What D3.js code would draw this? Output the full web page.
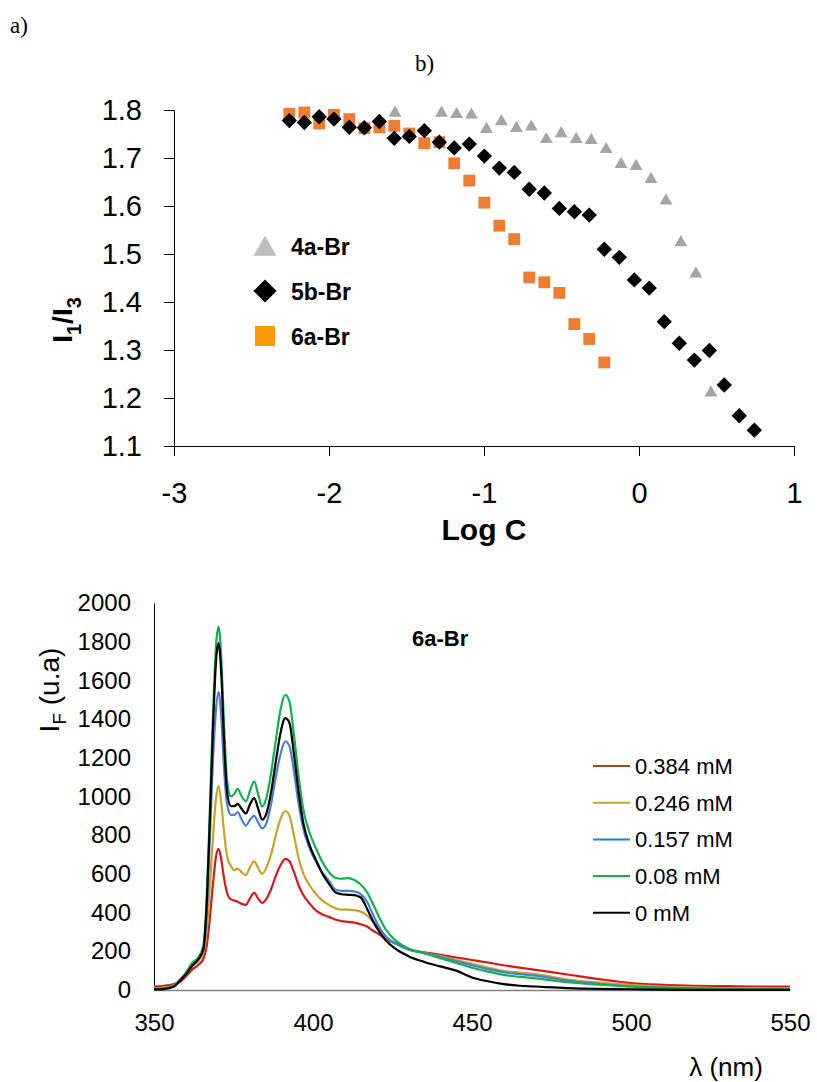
<!DOCTYPE html>
<html>
<head>
<meta charset="utf-8">
<script src="https://cdn.jsdelivr.net/npm/d3@7"></script>
<style>
  body { margin: 0; background: #fff; }
  svg { display: block; font-family: "Liberation Sans", Arial, sans-serif; }
</style>
</head>
<body>
<div id="chart"></div>
<script>
// ---- data: b) I1/I3 vs Log C ----
const logC4a = [-1.574, -1.274, -1.177, -1.081, -0.984, -0.888, -0.791, -0.695, -0.598, -0.502, -0.405, -0.308, -0.212, -0.115, -0.019, 0.077, 0.174, 0.270, 0.367, 0.464];
const ratio4a = [1.796, 1.796, 1.793, 1.792, 1.762, 1.778, 1.764, 1.767, 1.741, 1.753, 1.741, 1.739, 1.720, 1.689, 1.685, 1.658, 1.613, 1.526, 1.461, 1.213];

const logC5b = [-2.256, -2.159, -2.063, -1.968, -1.869, -1.772, -1.675, -1.579, -1.482, -1.385, -1.288, -1.192, -1.095, -0.998, -0.901, -0.805, -0.708, -0.611, -0.514, -0.417, -0.321, -0.224, -0.127, -0.030, 0.066, 0.163, 0.260, 0.357, 0.454, 0.550, 0.647, 0.744];
const ratio5b = [1.778, 1.774, 1.786, 1.781, 1.764, 1.763, 1.776, 1.741, 1.745, 1.757, 1.733, 1.721, 1.729, 1.704, 1.679, 1.670, 1.635, 1.627, 1.595, 1.588, 1.581, 1.510, 1.493, 1.446, 1.429, 1.359, 1.314, 1.279, 1.299, 1.227, 1.163, 1.133];

const logC6a = [-2.256, -2.159, -2.063, -1.968, -1.869, -1.772, -1.675, -1.579, -1.482, -1.385, -1.288, -1.192, -1.095, -0.998, -0.901, -0.805, -0.708, -0.611, -0.514, -0.417, -0.321, -0.224];
const ratio6a = [1.792, 1.795, 1.772, 1.790, 1.781, 1.762, 1.764, 1.767, 1.751, 1.731, 1.733, 1.689, 1.653, 1.607, 1.559, 1.531, 1.451, 1.441, 1.419, 1.354, 1.323, 1.274];

const topXTicks = [-3, -2, -1, 0, 1];
const topYTicks = [1.1, 1.2, 1.3, 1.4, 1.5, 1.6, 1.7, 1.8];
const topLegend = ["4a-Br", "5b-Br", "6a-Br"];

// ---- data: a) emission spectra of 6a-Br ----
const wavelength = [350, 353, 356, 358, 360, 362, 364, 365.5, 366.5, 367.5, 368.5, 369.5, 370.3, 371.2, 372, 373, 374.2, 375.3, 376.3, 377.6, 378.9, 380.2, 381.5, 382.8, 384, 385.3, 386.8, 388.3, 389.8, 391.3, 392.6, 394, 395.5, 397, 399, 401, 403, 405, 407, 409, 411, 413, 415, 417, 419, 421, 423, 426, 430, 435, 440, 445, 450, 455, 460, 465, 470, 480, 490, 500, 510, 520, 530, 540, 550];
const int0384 = [17, 22, 30, 40, 70, 105, 130, 160, 220, 360, 540, 690, 730, 670, 580, 500, 468, 462, 456, 445, 440, 475, 502, 472, 450, 470, 520, 590, 645, 678, 665, 610, 540, 490, 445, 410, 390, 378, 364, 356, 352, 348, 340, 328, 305, 285, 262, 240, 210, 195, 182, 168, 155, 142, 128, 116, 104, 80, 56, 36, 27, 22, 20, 18, 17];
const int0246 = [8, 12, 22, 45, 80, 120, 150, 190, 300, 520, 780, 990, 1055, 960, 820, 690, 640, 620, 628, 608, 594, 635, 665, 630, 600, 630, 700, 800, 885, 925, 900, 800, 680, 600, 540, 495, 462, 440, 422, 415, 415, 412, 405, 385, 350, 310, 272, 240, 212, 192, 175, 155, 135, 116, 98, 90, 82, 54, 38, 26, 17, 12, 10, 9, 8];
const int0157 = [5, 8, 20, 50, 85, 130, 165, 200, 380, 760, 1170, 1450, 1540, 1400, 1150, 960, 905, 905, 920, 880, 850, 880, 900, 865, 835, 860, 960, 1100, 1220, 1285, 1260, 1130, 960, 830, 730, 660, 605, 565, 520, 512, 512, 510, 495, 455, 385, 320, 275, 240, 210, 190, 172, 150, 128, 108, 92, 82, 74, 48, 31, 18, 12, 8, 6, 5, 5];
const int008 = [5, 8, 20, 50, 90, 140, 170, 230, 450, 900, 1400, 1780, 1878, 1700, 1380, 1080, 1000, 1015, 1040, 1000, 975, 1030, 1078, 1010, 948, 990, 1120, 1290, 1450, 1525, 1490, 1320, 1100, 930, 810, 730, 660, 610, 580, 575, 578, 568, 545, 505, 440, 370, 310, 255, 215, 190, 165, 140, 115, 95, 78, 68, 60, 40, 27, 17, 11, 7, 5, 4, 4];
const int0 = [3, 5, 15, 45, 80, 125, 160, 210, 420, 850, 1330, 1700, 1793, 1620, 1300, 1020, 950, 950, 962, 935, 912, 960, 992, 935, 880, 910, 1020, 1180, 1330, 1405, 1380, 1220, 1020, 860, 745, 670, 600, 550, 505, 495, 492, 490, 478, 420, 352, 298, 255, 212, 175, 145, 122, 100, 65, 45, 30, 22, 18, 10, 6, 4, 2, 1, 1, 1, 1];

const concLabels = ["0.384 mM", "0.246 mM", "0.157 mM", "0.08 mM", "0 mM"];
const lineColors = ["#d7191c", "#c9a227", "#4a7fd0", "#10b050", "#000000"];
const legendColors = ["#9c4a1a", "#c9a227", "#1a7fd8", "#10b050", "#000000"];
const botXTicks = [350, 400, 450, 500, 550];
const botYTicks = [0, 200, 400, 600, 800, 1000, 1200, 1400, 1600, 1800, 2000];

const width = 817, height = 1082;

const svg = d3.select("#chart")
  .append("svg")
  .attr("width", width)
  .attr("height", height)
  .attr("viewBox", [0, 0, width, height]);

// panel letters
svg.append("text").attr("x", 10).attr("y", 33)
  .style("font-family", "'Liberation Serif', 'Times New Roman', serif")
  .style("font-size", "23px").text("a)");
svg.append("text").attr("x", 415).attr("y", 71)
  .style("font-family", "'Liberation Serif', 'Times New Roman', serif")
  .style("font-size", "23px").text("b)");

// ================= top chart =================
const x1 = d3.scaleLinear().domain([-3, 1]).range([174, 794]);
const y1 = d3.scaleLinear().domain([1.1, 1.8]).range([446, 110]);

const gx1 = svg.append("g")
  .attr("transform", "translate(0,446)")
  .call(d3.axisBottom(x1).tickValues(topXTicks).tickSize(10).tickSizeOuter(0).tickPadding(26).tickFormat(d3.format("d")));
const gy1 = svg.append("g")
  .attr("transform", "translate(174,0)")
  .call(d3.axisLeft(y1).tickValues(topYTicks).tickSize(10).tickSizeOuter(0).tickPadding(22).tickFormat(d3.format(".1f")));
[gx1, gy1].forEach(g => {
  g.selectAll("text").style("font-size", "29px").style("font-family", "'Liberation Sans', Arial, sans-serif").attr("fill", "#000");
  g.selectAll("line, path").attr("stroke", "#000");
});
gx1.selectAll("text").text(d => d < 0 ? "-" + Math.abs(d) : d);

svg.append("text")
  .attr("x", 484).attr("y", 540)
  .attr("text-anchor", "middle")
  .style("font-size", "30px").style("font-weight", "bold")
  .text("Log C");

const yt1 = svg.append("text")
  .attr("transform", "translate(72,320) rotate(-90)")
  .attr("text-anchor", "middle")
  .style("font-size", "28px").style("font-weight", "bold");
yt1.append("tspan").text("I");
yt1.append("tspan").attr("dy", 9).style("font-size", "20px").text("1");
yt1.append("tspan").attr("dy", -9).text("/I");
yt1.append("tspan").attr("dy", 9).style("font-size", "20px").text("3");

const triangle = d3.symbol().type(d3.symbolTriangle);
const square = d3.symbol().type(d3.symbolSquare);

svg.append("g").selectAll("path")
  .data(logC4a.map((c, i) => [c, ratio4a[i]]))
  .join("path")
  .attr("transform", d => `translate(${x1(d[0])},${y1(d[1]) + 1})`)
  .attr("d", triangle.size(72)())
  .attr("fill", "#a5a5a5");

svg.append("g").selectAll("path")
  .data(logC6a.map((c, i) => [c, ratio6a[i]]))
  .join("path")
  .attr("transform", d => `translate(${x1(d[0])},${y1(d[1])})`)
  .attr("d", square.size(140)())
  .attr("fill", "#ed7d31");

svg.append("g").selectAll("path")
  .data(logC5b.map((c, i) => [c, ratio5b[i]]))
  .join("path")
  .attr("transform", d => `translate(${x1(d[0])},${y1(d[1])}) rotate(45)`)
  .attr("d", square.size(118)())
  .attr("fill", "#000");

// top legend
const legMarks = [
  { d: triangle.size(230)(), fill: "#bfbfbf", rot: 0, dy: 3 },
  { d: square.size(270)(), fill: "#000", rot: 45, dy: 0 },
  { d: square.size(400)(), fill: "#ff9900", rot: 0, dy: 0 }
];
const leg1 = svg.append("g");
topLegend.forEach((name, i) => {
  const cy = 246 + i * 45;
  leg1.append("path")
    .attr("transform", `translate(265,${cy + legMarks[i].dy}) rotate(${legMarks[i].rot})`)
    .attr("d", legMarks[i].d)
    .attr("fill", legMarks[i].fill);
  leg1.append("text")
    .attr("x", 291).attr("y", cy + 9)
    .style("font-size", "23px").style("font-weight", "bold")
    .text(name);
});

// ================= bottom chart =================
const x2 = d3.scaleLinear().domain([350, 550]).range([154, 790]);
const y2 = d3.scaleLinear().domain([0, 2000]).range([990, 603]);

const gx2 = svg.append("g")
  .attr("transform", "translate(0,990)")
  .call(d3.axisBottom(x2).tickValues(botXTicks).tickSize(0).tickPadding(24).tickFormat(d3.format("d")));
gx2.select(".domain").attr("stroke", "#7f7f7f").attr("stroke-width", 1.5);
const gy2 = svg.append("g")
  .attr("transform", "translate(154,0)")
  .call(d3.axisLeft(y2).tickValues(botYTicks).tickSize(0).tickPadding(23).tickFormat(d3.format("d")));
gy2.select(".domain").attr("stroke", "#000");
[gx2, gy2].forEach(g => {
  g.selectAll("text").style("font-size", "24px").style("font-family", "'Liberation Sans', Arial, sans-serif").attr("fill", "#000");
});

const series = [int0384, int0246, int0157, int008, int0];
const line = d3.line()
  .x((d, i) => x2(wavelength[i]))
  .y(d => y2(d))
  .curve(d3.curveMonotoneX);

svg.append("g").selectAll("path")
  .data(series)
  .join("path")
  .attr("d", line)
  .attr("fill", "none")
  .attr("stroke", (d, i) => lineColors[i])
  .attr("stroke-width", 2.2)
  .attr("stroke-linejoin", "round");

svg.append("text")
  .attr("x", 412).attr("y", 646)
  .style("font-size", "22px").style("font-weight", "bold")
  .text("6a-Br");

const yt2 = svg.append("text")
  .attr("transform", "translate(59,690) rotate(-90)")
  .attr("text-anchor", "middle")
  .style("font-size", "28px");
yt2.append("tspan").text("I");
yt2.append("tspan").attr("dy", 7).style("font-size", "19px").text("F");
yt2.append("tspan").attr("dy", -7).text(" (u.a)");

svg.append("text")
  .attr("x", 726).attr("y", 1076)
  .attr("text-anchor", "middle")
  .style("font-size", "26px")
  .text("λ (nm)");

// bottom legend
const leg2 = svg.append("g");
concLabels.forEach((name, i) => {
  const cy = 766 + i * 36.7;
  leg2.append("line")
    .attr("x1", 593).attr("x2", 630)
    .attr("y1", cy).attr("y2", cy)
    .attr("stroke", legendColors[i]).attr("stroke-width", 2);
  leg2.append("text")
    .attr("x", 635).attr("y", cy + 8)
    .style("font-size", "22px")
    .text(name);
});
</script>
</body>
</html>
